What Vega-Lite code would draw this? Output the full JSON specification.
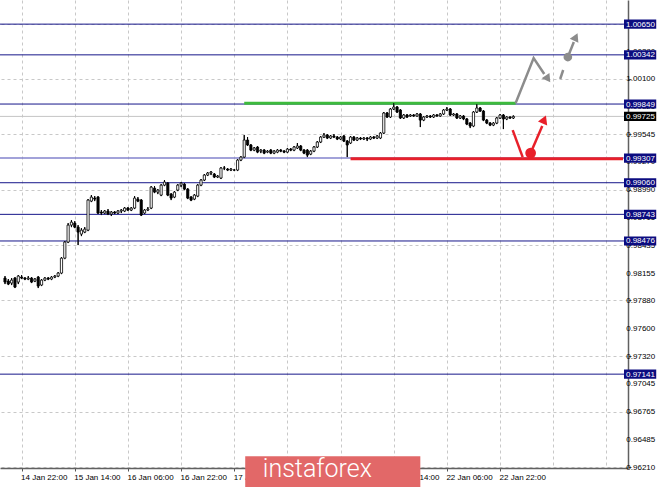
{
  "$schema": "https://vega.github.io/schema/vega-lite/v6.json",
  "width": 628,
  "height": 468,
  "autosize": {"type": "none"},
  "padding": {"left": 0, "top": 0, "right": 37, "bottom": 19},
  "background": "white",
  "config": {
    "view": {"stroke": null},
    "axis": {"labelFont": "Liberation Sans", "labelFontSize": 8, "labelColor": "#000000", "labelOverlap": false, "labelBound": false, "labelFlush": false}
  },
  "datasets": {
    "candles": [
      {"i":0,"o":0.98104,"h":0.98124,"l":0.98044,"c":0.98064},
      {"i":1,"o":0.98074,"h":0.98094,"l":0.98034,"c":0.98044},
      {"i":2,"o":0.98054,"h":0.98104,"l":0.98034,"c":0.98084},
      {"i":3,"o":0.98104,"h":0.98114,"l":0.98004,"c":0.98014},
      {"i":4,"o":0.98064,"h":0.98134,"l":0.98044,"c":0.98124},
      {"i":5,"o":0.98114,"h":0.98134,"l":0.98094,"c":0.98104},
      {"i":6,"o":0.98104,"h":0.98114,"l":0.98084,"c":0.98094},
      {"i":7,"o":0.98094,"h":0.98124,"l":0.98084,"c":0.98104},
      {"i":8,"o":0.98104,"h":0.98114,"l":0.98054,"c":0.98064},
      {"i":9,"o":0.98074,"h":0.98104,"l":0.98064,"c":0.98094},
      {"i":10,"o":0.98114,"h":0.98124,"l":0.98004,"c":0.98024},
      {"i":11,"o":0.98034,"h":0.98094,"l":0.98024,"c":0.98084},
      {"i":12,"o":0.98084,"h":0.98114,"l":0.98074,"c":0.98104},
      {"i":13,"o":0.98104,"h":0.98114,"l":0.98084,"c":0.98094},
      {"i":14,"o":0.98094,"h":0.98124,"l":0.98084,"c":0.98114},
      {"i":15,"o":0.98114,"h":0.98134,"l":0.98104,"c":0.98124},
      {"i":16,"o":0.98124,"h":0.98164,"l":0.98114,"c":0.98154},
      {"i":17,"o":0.98154,"h":0.98314,"l":0.98144,"c":0.98304},
      {"i":18,"o":0.98304,"h":0.98475,"l":0.98294,"c":0.98465},
      {"i":19,"o":0.98465,"h":0.98655,"l":0.98455,"c":0.98635},
      {"i":20,"o":0.98635,"h":0.98685,"l":0.98615,"c":0.98665},
      {"i":21,"o":0.98655,"h":0.98675,"l":0.98605,"c":0.98615},
      {"i":22,"o":0.98615,"h":0.98635,"l":0.98435,"c":0.98565},
      {"i":23,"o":0.98545,"h":0.98605,"l":0.98525,"c":0.98585},
      {"i":24,"o":0.98565,"h":0.98615,"l":0.98555,"c":0.98595},
      {"i":25,"o":0.98585,"h":0.98896,"l":0.98575,"c":0.98886},
      {"i":26,"o":0.98876,"h":0.98936,"l":0.98866,"c":0.98916},
      {"i":27,"o":0.98906,"h":0.98926,"l":0.98876,"c":0.98896},
      {"i":28,"o":0.98916,"h":0.98926,"l":0.98746,"c":0.98756},
      {"i":29,"o":0.98766,"h":0.98786,"l":0.98736,"c":0.98756},
      {"i":30,"o":0.98756,"h":0.98786,"l":0.98746,"c":0.98776},
      {"i":31,"o":0.98776,"h":0.98796,"l":0.98736,"c":0.98746},
      {"i":32,"o":0.98746,"h":0.98776,"l":0.98726,"c":0.98766},
      {"i":33,"o":0.98766,"h":0.98776,"l":0.98746,"c":0.98756},
      {"i":34,"o":0.98756,"h":0.98786,"l":0.98746,"c":0.98776},
      {"i":35,"o":0.98776,"h":0.98796,"l":0.98756,"c":0.98786},
      {"i":36,"o":0.98776,"h":0.98816,"l":0.98766,"c":0.98806},
      {"i":37,"o":0.98806,"h":0.98816,"l":0.98776,"c":0.98786},
      {"i":38,"o":0.98786,"h":0.98816,"l":0.98776,"c":0.98806},
      {"i":39,"o":0.98806,"h":0.98926,"l":0.98796,"c":0.98906},
      {"i":40,"o":0.98896,"h":0.98916,"l":0.98866,"c":0.98876},
      {"i":41,"o":0.98886,"h":0.98896,"l":0.98726,"c":0.98736},
      {"i":42,"o":0.98756,"h":0.98796,"l":0.98746,"c":0.98786},
      {"i":43,"o":0.98786,"h":0.98816,"l":0.98776,"c":0.98796},
      {"i":44,"o":0.98806,"h":0.99026,"l":0.98796,"c":0.99016},
      {"i":45,"o":0.99006,"h":0.99026,"l":0.98956,"c":0.98966},
      {"i":46,"o":0.98966,"h":0.98996,"l":0.98946,"c":0.98986},
      {"i":47,"o":0.98936,"h":0.99046,"l":0.98926,"c":0.99036},
      {"i":48,"o":0.99036,"h":0.99087,"l":0.99026,"c":0.99067},
      {"i":49,"o":0.99056,"h":0.99067,"l":0.98926,"c":0.98936},
      {"i":50,"o":0.98946,"h":0.98956,"l":0.98886,"c":0.98906},
      {"i":51,"o":0.98916,"h":0.98976,"l":0.98906,"c":0.98966},
      {"i":52,"o":0.98986,"h":0.99046,"l":0.98976,"c":0.99036},
      {"i":53,"o":0.99036,"h":0.99067,"l":0.99016,"c":0.99056},
      {"i":54,"o":0.99046,"h":0.99056,"l":0.98986,"c":0.98996},
      {"i":55,"o":0.98996,"h":0.99006,"l":0.98896,"c":0.98906},
      {"i":56,"o":0.98916,"h":0.98926,"l":0.98876,"c":0.98886},
      {"i":57,"o":0.98896,"h":0.98946,"l":0.98886,"c":0.98936},
      {"i":58,"o":0.98926,"h":0.99046,"l":0.98916,"c":0.99036},
      {"i":59,"o":0.99036,"h":0.99097,"l":0.99026,"c":0.99087},
      {"i":60,"o":0.99087,"h":0.99147,"l":0.99077,"c":0.99137},
      {"i":61,"o":0.99137,"h":0.99167,"l":0.99127,"c":0.99157},
      {"i":62,"o":0.99157,"h":0.99177,"l":0.99137,"c":0.99167},
      {"i":63,"o":0.99147,"h":0.99157,"l":0.99107,"c":0.99117},
      {"i":64,"o":0.99117,"h":0.99137,"l":0.99107,"c":0.99127},
      {"i":65,"o":0.99107,"h":0.99217,"l":0.99097,"c":0.99207},
      {"i":66,"o":0.99207,"h":0.99227,"l":0.99187,"c":0.99207},
      {"i":67,"o":0.99197,"h":0.99207,"l":0.99177,"c":0.99187},
      {"i":68,"o":0.99187,"h":0.99207,"l":0.99177,"c":0.99197},
      {"i":69,"o":0.99187,"h":0.99197,"l":0.99177,"c":0.99187},
      {"i":70,"o":0.99187,"h":0.99297,"l":0.99177,"c":0.99287},
      {"i":71,"o":0.99287,"h":0.99327,"l":0.99277,"c":0.99317},
      {"i":72,"o":0.99317,"h":0.99538,"l":0.99307,"c":0.99488},
      {"i":73,"o":0.99488,"h":0.99518,"l":0.99428,"c":0.99438},
      {"i":74,"o":0.99438,"h":0.99448,"l":0.99377,"c":0.99387},
      {"i":75,"o":0.99387,"h":0.99418,"l":0.99377,"c":0.99408},
      {"i":76,"o":0.99418,"h":0.99428,"l":0.99357,"c":0.99367},
      {"i":77,"o":0.99377,"h":0.99397,"l":0.99357,"c":0.99387},
      {"i":78,"o":0.99387,"h":0.99397,"l":0.99347,"c":0.99357},
      {"i":79,"o":0.99367,"h":0.99387,"l":0.99357,"c":0.99377},
      {"i":80,"o":0.99387,"h":0.99397,"l":0.99347,"c":0.99357},
      {"i":81,"o":0.99357,"h":0.99387,"l":0.99347,"c":0.99377},
      {"i":82,"o":0.99367,"h":0.99397,"l":0.99357,"c":0.99387},
      {"i":83,"o":0.99387,"h":0.99397,"l":0.99367,"c":0.99377},
      {"i":84,"o":0.99377,"h":0.99387,"l":0.99357,"c":0.99367},
      {"i":85,"o":0.99367,"h":0.99408,"l":0.99357,"c":0.99397},
      {"i":86,"o":0.99397,"h":0.99408,"l":0.99377,"c":0.99387},
      {"i":87,"o":0.99387,"h":0.99428,"l":0.99377,"c":0.99418},
      {"i":88,"o":0.99408,"h":0.99458,"l":0.99398,"c":0.99428},
      {"i":89,"o":0.99428,"h":0.99438,"l":0.99377,"c":0.99387},
      {"i":90,"o":0.99387,"h":0.99397,"l":0.99347,"c":0.99357},
      {"i":91,"o":0.99387,"h":0.99397,"l":0.99317,"c":0.99337},
      {"i":92,"o":0.99347,"h":0.99387,"l":0.99337,"c":0.99377},
      {"i":93,"o":0.99377,"h":0.99428,"l":0.99367,"c":0.99418},
      {"i":94,"o":0.99418,"h":0.99478,"l":0.99408,"c":0.99468},
      {"i":95,"o":0.99468,"h":0.99528,"l":0.99458,"c":0.99518},
      {"i":96,"o":0.99518,"h":0.99558,"l":0.99508,"c":0.99538},
      {"i":97,"o":0.99538,"h":0.99548,"l":0.99498,"c":0.99508},
      {"i":98,"o":0.99508,"h":0.99538,"l":0.99498,"c":0.99528},
      {"i":99,"o":0.99528,"h":0.99548,"l":0.99508,"c":0.99518},
      {"i":100,"o":0.99518,"h":0.99528,"l":0.99488,"c":0.99498},
      {"i":101,"o":0.99498,"h":0.99528,"l":0.99488,"c":0.99518},
      {"i":102,"o":0.99528,"h":0.99538,"l":0.99468,"c":0.99478},
      {"i":103,"o":0.99478,"h":0.99488,"l":0.99317,"c":0.99438},
      {"i":104,"o":0.99458,"h":0.99528,"l":0.99448,"c":0.99518},
      {"i":105,"o":0.99518,"h":0.99528,"l":0.99478,"c":0.99488},
      {"i":106,"o":0.99488,"h":0.99518,"l":0.99478,"c":0.99508},
      {"i":107,"o":0.99508,"h":0.99518,"l":0.99488,"c":0.99498},
      {"i":108,"o":0.99498,"h":0.99518,"l":0.99488,"c":0.99508},
      {"i":109,"o":0.99508,"h":0.99518,"l":0.99478,"c":0.99498},
      {"i":110,"o":0.99498,"h":0.99528,"l":0.99488,"c":0.99518},
      {"i":111,"o":0.99518,"h":0.99528,"l":0.99498,"c":0.99508},
      {"i":112,"o":0.99508,"h":0.99538,"l":0.99498,"c":0.99528},
      {"i":113,"o":0.99508,"h":0.99568,"l":0.99498,"c":0.99558},
      {"i":114,"o":0.99558,"h":0.99769,"l":0.99548,"c":0.99759},
      {"i":115,"o":0.99759,"h":0.99769,"l":0.99709,"c":0.99719},
      {"i":116,"o":0.99719,"h":0.99809,"l":0.99709,"c":0.99799},
      {"i":117,"o":0.99799,"h":0.99859,"l":0.99789,"c":0.99819},
      {"i":118,"o":0.99819,"h":0.99829,"l":0.99759,"c":0.99769},
      {"i":119,"o":0.99789,"h":0.99799,"l":0.99699,"c":0.99709},
      {"i":120,"o":0.99709,"h":0.99749,"l":0.99699,"c":0.99739},
      {"i":121,"o":0.99739,"h":0.99749,"l":0.99709,"c":0.99719},
      {"i":122,"o":0.99729,"h":0.99749,"l":0.99719,"c":0.99739},
      {"i":123,"o":0.99739,"h":0.99749,"l":0.99719,"c":0.99729},
      {"i":124,"o":0.99729,"h":0.99759,"l":0.99719,"c":0.99749},
      {"i":125,"o":0.99749,"h":0.99759,"l":0.99618,"c":0.99688},
      {"i":126,"o":0.99688,"h":0.99729,"l":0.99678,"c":0.99719},
      {"i":127,"o":0.99719,"h":0.99739,"l":0.99709,"c":0.99729},
      {"i":128,"o":0.99729,"h":0.99739,"l":0.99709,"c":0.99719},
      {"i":129,"o":0.99719,"h":0.99749,"l":0.99709,"c":0.99739},
      {"i":130,"o":0.99739,"h":0.99749,"l":0.99719,"c":0.99729},
      {"i":131,"o":0.99729,"h":0.99759,"l":0.99719,"c":0.99749},
      {"i":132,"o":0.99749,"h":0.99799,"l":0.99739,"c":0.99789},
      {"i":133,"o":0.99789,"h":0.99819,"l":0.99779,"c":0.99799},
      {"i":134,"o":0.99799,"h":0.99809,"l":0.99729,"c":0.99739},
      {"i":135,"o":0.99739,"h":0.99759,"l":0.99729,"c":0.99749},
      {"i":136,"o":0.99749,"h":0.99759,"l":0.99699,"c":0.99709},
      {"i":137,"o":0.99709,"h":0.99739,"l":0.99699,"c":0.99729},
      {"i":138,"o":0.99729,"h":0.99739,"l":0.99688,"c":0.99699},
      {"i":139,"o":0.99699,"h":0.99709,"l":0.99638,"c":0.99648},
      {"i":140,"o":0.99658,"h":0.99668,"l":0.99608,"c":0.99628},
      {"i":141,"o":0.99628,"h":0.99779,"l":0.99618,"c":0.99769},
      {"i":142,"o":0.99769,"h":0.99849,"l":0.99759,"c":0.99809},
      {"i":143,"o":0.99809,"h":0.99819,"l":0.99769,"c":0.99779},
      {"i":144,"o":0.99779,"h":0.99789,"l":0.99678,"c":0.99688},
      {"i":145,"o":0.99688,"h":0.99699,"l":0.99648,"c":0.99658},
      {"i":146,"o":0.99658,"h":0.99668,"l":0.99628,"c":0.99638},
      {"i":147,"o":0.99638,"h":0.99668,"l":0.99628,"c":0.99658},
      {"i":148,"o":0.99658,"h":0.99719,"l":0.99648,"c":0.99709},
      {"i":149,"o":0.99709,"h":0.99749,"l":0.99699,"c":0.99739},
      {"i":150,"o":0.99739,"h":0.99749,"l":0.99598,"c":0.99699},
      {"i":151,"o":0.99699,"h":0.99729,"l":0.99688,"c":0.99719},
      {"i":152,"o":0.99719,"h":0.99729,"l":0.99699,"c":0.99709},
      {"i":153,"o":0.99709,"h":0.99735,"l":0.99699,"c":0.99725}
    ],
    "navyLevels": [{"p":1.00650},{"p":1.00342},{"p":0.99849},{"p":0.99307},{"p":0.99060},{"p":0.98743},{"p":0.98476},{"p":0.97141}],
    "priceTicks": [{"p":1.00655},{"p":1.00380},{"p":1.00100},{"p":0.99825},{"p":0.99545},{"p":0.99270},{"p":0.98990},{"p":0.98715},{"p":0.98435},{"p":0.98155},{"p":0.97880},{"p":0.97600},{"p":0.97320},{"p":0.97045},{"p":0.96765},{"p":0.96485},{"p":0.96210}]
  },
  "layer": [
    {
      "data": {"name": "candles"},
      "mark": {"type": "rule", "color": "#000000", "strokeWidth": 1},
      "encoding": {
        "x": {
          "field": "i", "type": "quantitative",
          "scale": {"domain": [0, 186], "nice": false, "zero": false},
          "axis": {
            "title": null,
            "values": [-11,-3,5,13,21,29,37,45,53,61,69,77,85,93,101,109,117,125,133,141,149,157,165,173,181],
            "labelExpr": "(datum.value + 11) % 16 == 0 && datum.value <= 149 ? ['14 Jan 06:00','14 Jan 22:00','15 Jan 14:00','16 Jan 06:00','16 Jan 22:00','17 Jan 14:00','20 Jan 06:00','20 Jan 22:00','21 Jan 14:00','22 Jan 06:00','22 Jan 22:00'][(datum.value + 11) / 16] : ''",
            "labelAlign": "left",
            "labelBaseline": "top",
            "labelPadding": 2,
            "labelOffset": -1,
            "labelOverlap": false,
            "labelBound": false,
            "labelFlush": false,
            "tickSize": 3,
            "tickColor": "#555555",
            "tickOpacity": {"condition": {"test": "(datum.value + 11) % 16 == 0 && datum.value <= 149", "value": 1}, "value": 0},
            "domainColor": "#606060",
            "domainWidth": 1.5,
            "grid": true,
            "gridColor": "#c8c8c8",
            "gridDash": [3, 3],
            "gridWidth": 1
          }
        },
        "y": {
          "field": "l", "type": "quantitative",
          "scale": {"domain": [0.96200, 1.00892], "nice": false, "zero": false},
          "axis": {
            "title": null,
            "orient": "right",
            "values": [1.00655,1.00380,1.00100,0.99825,0.99545,0.99270,0.98990,0.98715,0.98435,0.98155,0.97880,0.97600,0.97320,0.97045,0.96765,0.96485,0.96210],
            "labels": false,
            "tickSize": 3,
            "tickColor": "#555555",
            "domainColor": "#606060",
            "domainWidth": 1.5,
            "grid": true,
            "gridColor": "#c8c8c8",
            "gridDash": [3, 3],
            "gridWidth": 1
          }
        },
        "y2": {"field": "h"}
      }
    },
    {
      "data": {"values": [{"p": 0.99725}]},
      "mark": {"type": "rule", "color": "#c4c4c4", "strokeWidth": 1},
      "encoding": {"y": {"field": "p", "type": "quantitative"}}
    },
    {
      "data": {"name": "navyLevels"},
      "transform": [{"filter": "datum.p != 0.99307"}],
      "mark": {"type": "rule", "color": "#16168a", "strokeWidth": 1},
      "encoding": {"y": {"field": "p", "type": "quantitative"}}
    },
    {
      "data": {"values": [{"p": 0.99307}]},
      "mark": {"type": "rule", "color": "#8383cc", "strokeWidth": 1.5},
      "encoding": {"y": {"field": "p", "type": "quantitative"}}
    },
    {
      "data": {"values": [{"i1": 72, "i2": 153.7, "p": 0.99858}]},
      "mark": {"type": "rule", "color": "#3dbb3d", "strokeWidth": 3},
      "encoding": {
        "x": {"field": "i1", "type": "quantitative"},
        "x2": {"field": "i2"},
        "y": {"field": "p", "type": "quantitative"}
      }
    },
    {
      "data": {"values": [{"i1": 104, "i2": 186, "p": 0.99300}]},
      "mark": {"type": "rule", "color": "#e8202a", "strokeWidth": 3},
      "encoding": {
        "x": {"field": "i1", "type": "quantitative"},
        "x2": {"field": "i2"},
        "y": {"field": "p", "type": "quantitative"}
      }
    },
    {
      "data": {"name": "candles"},
      "mark": {"type": "rule", "color": "#000000", "strokeWidth": 1},
      "encoding": {
        "x": {"field": "i", "type": "quantitative"},
        "y": {"field": "l", "type": "quantitative"},
        "y2": {"field": "h"}
      }
    },
    {
      "data": {"name": "candles"},
      "mark": {"type": "bar", "orient": "vertical", "size": 2.2, "stroke": "#000000", "strokeWidth": 0.8},
      "encoding": {
        "x": {"field": "i", "type": "quantitative"},
        "y": {"field": "o", "type": "quantitative"},
        "y2": {"field": "c"},
        "fill": {"condition": {"test": "datum.c >= datum.o", "value": "#ffffff"}, "value": "#000000"}
      }
    },
    {
      "data": {"values": [
        {"seg": "up", "k": 1, "i": 153.7, "p": 0.99859},
        {"seg": "up", "k": 2, "i": 159.1, "p": 1.00310},
        {"seg": "up", "k": 3, "i": 162.3, "p": 1.00150},
        {"seg": "dash", "k": 1, "i": 167.1, "p": 1.00100},
        {"seg": "dash", "k": 2, "i": 168.0, "p": 1.00190},
        {"seg": "next", "k": 1, "i": 169.4, "p": 1.00320},
        {"seg": "next", "k": 2, "i": 171.2, "p": 1.00471}
      ]},
      "mark": {"type": "line", "color": "#8c8c8c", "strokeWidth": 2.5},
      "encoding": {
        "x": {"field": "i", "type": "quantitative"},
        "y": {"field": "p", "type": "quantitative"},
        "detail": {"field": "seg"},
        "order": {"field": "k"}
      }
    },
    {
      "data": {"values": [
        {"seg": "down", "k": 1, "i": 152.8, "p": 0.99588},
        {"seg": "down", "k": 2, "i": 155.8, "p": 0.99317},
        {"seg": "rebound", "k": 1, "i": 158.2, "p": 0.99357},
        {"seg": "rebound", "k": 2, "i": 161.7, "p": 0.99629}
      ]},
      "mark": {"type": "line", "color": "#e8202a", "strokeWidth": 2.5},
      "encoding": {
        "x": {"field": "i", "type": "quantitative"},
        "y": {"field": "p", "type": "quantitative"},
        "detail": {"field": "seg"},
        "order": {"field": "k"}
      }
    },
    {
      "data": {"values": [{"i": 163.4, "p": 1.00100}]},
      "mark": {"type": "point", "shape": "triangle-up", "filled": true, "color": "#8c8c8c", "opacity": 1, "size": 90, "angle": 145},
      "encoding": {
        "x": {"field": "i", "type": "quantitative"},
        "y": {"field": "p", "type": "quantitative"}
      }
    },
    {
      "data": {"values": [{"i": 171.8, "p": 1.00521}]},
      "mark": {"type": "point", "shape": "triangle-up", "filled": true, "color": "#8c8c8c", "opacity": 1, "size": 90, "angle": 25},
      "encoding": {
        "x": {"field": "i", "type": "quantitative"},
        "y": {"field": "p", "type": "quantitative"}
      }
    },
    {
      "data": {"values": [{"i": 162.3, "p": 0.99694}]},
      "mark": {"type": "point", "shape": "triangle-up", "filled": true, "color": "#e8202a", "opacity": 1, "size": 100, "angle": 23},
      "encoding": {
        "x": {"field": "i", "type": "quantitative"},
        "y": {"field": "p", "type": "quantitative"}
      }
    },
    {
      "data": {"values": [{"i": 169.4, "p": 1.00320}]},
      "mark": {"type": "point", "shape": "circle", "filled": true, "color": "#8c8c8c", "opacity": 1, "size": 75},
      "encoding": {
        "x": {"field": "i", "type": "quantitative"},
        "y": {"field": "p", "type": "quantitative"}
      }
    },
    {
      "data": {"values": [{"i": 158.2, "p": 0.99357}]},
      "mark": {"type": "point", "shape": "circle", "filled": true, "color": "#e8202a", "opacity": 1, "size": 115},
      "encoding": {
        "x": {"field": "i", "type": "quantitative"},
        "y": {"field": "p", "type": "quantitative"}
      }
    },
    {
      "data": {"name": "priceTicks"},
      "mark": {"type": "text", "align": "left", "baseline": "middle", "color": "#000000", "font": "Liberation Sans", "fontSize": 8, "dy": 0.5},
      "encoding": {
        "x": {"datum": 187.0, "type": "quantitative"},
        "y": {"field": "p", "type": "quantitative"},
        "text": {"field": "p", "type": "quantitative", "format": ".5f"}
      }
    },
    {
      "data": {"name": "navyLevels"},
      "transform": [{"calculate": "datum.p + 0.00046", "as": "top"}, {"calculate": "datum.p - 0.00046", "as": "bottom"}],
      "mark": {"type": "rect", "color": "#0c0c80"},
      "encoding": {
        "x": {"datum": 186.3, "type": "quantitative"},
        "x2": {"datum": 196.0},
        "y": {"field": "top", "type": "quantitative"},
        "y2": {"field": "bottom"}
      }
    },
    {
      "data": {"values": [{"p": 0.99725}]},
      "transform": [{"calculate": "datum.p + 0.00046", "as": "top"}, {"calculate": "datum.p - 0.00046", "as": "bottom"}],
      "mark": {"type": "rect", "color": "#000000"},
      "encoding": {
        "x": {"datum": 186.3, "type": "quantitative"},
        "x2": {"datum": 196.0},
        "y": {"field": "top", "type": "quantitative"},
        "y2": {"field": "bottom"}
      }
    },
    {
      "data": {"values": [{"p":1.00650},{"p":1.00342},{"p":0.99849},{"p":0.99307},{"p":0.99060},{"p":0.98743},{"p":0.98476},{"p":0.97141},{"p":0.99725}]},
      "mark": {"type": "text", "align": "left", "baseline": "middle", "color": "#ffffff", "font": "Liberation Sans", "fontSize": 8, "dy": 0.5},
      "encoding": {
        "x": {"datum": 186.9, "type": "quantitative"},
        "y": {"field": "p", "type": "quantitative"},
        "text": {"field": "p", "type": "quantitative", "format": ".5f"}
      }
    },
    {
      "data": {"values": [{"x1": 72.3, "x2": 125.0, "p1": 0.96319, "p2": 0.96000}]},
      "mark": {"type": "rect", "color": "#e26868"},
      "encoding": {
        "x": {"field": "x1", "type": "quantitative"},
        "x2": {"field": "x2"},
        "y": {"field": "p1", "type": "quantitative"},
        "y2": {"field": "p2"}
      }
    },
    {
      "data": {"values": [{"i": 77.6, "p": 0.96108, "label": "instaforex"}]},
      "mark": {"type": "text", "align": "left", "baseline": "alphabetic", "color": "#ffffff", "font": "Roboto", "fontWeight": 300, "fontSize": 25},
      "encoding": {
        "x": {"field": "i", "type": "quantitative"},
        "y": {"field": "p", "type": "quantitative"},
        "text": {"field": "label"}
      }
    }
  ]
}
